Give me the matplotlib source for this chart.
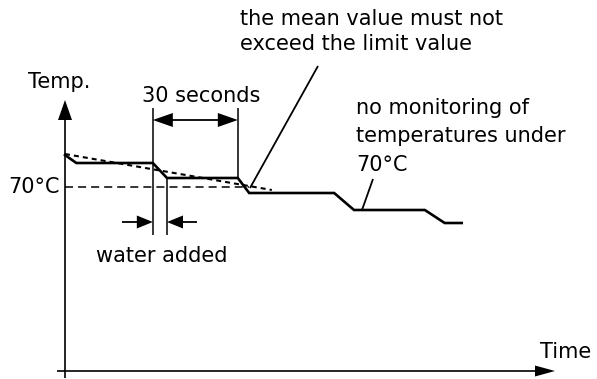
import matplotlib
matplotlib.use("Agg")
import matplotlib.pyplot as plt
import numpy as np

plt.rcParams["font.family"] = ["DejaVu Sans"]
plt.rcParams["lines.scale_dashes"] = False

# Temperature trace (time in s, temperature in degC)
time_s = [0, 4, 31, 36, 61, 65, 95, 102, 127, 134, 140]
temp_c = [73.2, 72.4, 72.4, 70.9, 70.9, 69.4, 69.4, 67.7, 67.7, 66.4, 66.4]

# Running mean over the monitoring window
mean_time_s = [0, 73]
mean_temp_c = [73.3, 69.7]

limit_c = 70.0
limit_end_s = 65
water_start_s, water_end_s = 31, 36
window_start_s, window_end_s = 31, 61

W, H = 597, 379
fig = plt.figure(figsize=(W / 100, H / 100), dpi=100)
ax = fig.add_axes([0, 0, 1, 1])

# data <-> pixel scale: 85 px per 30 s, 10 px per degC, origin at (65 px, 70 degC @ 187 px)
X0, SX = 65.0, 85.0 / 30.0
Y0, SY = 187.0, 10.0


def tx(px):
    return (px - X0) / SX


def ty(py):
    return limit_c + (Y0 - py) / SY


ax.set_xlim(tx(0), tx(W))
ax.set_ylim(ty(H), ty(0))
ax.axis("off")

K = "black"


def seg(x0, y0, x1, y1, lw=1.1, **kw):
    ax.plot([tx(x0), tx(x1)], [ty(y0), ty(y1)], color=K, lw=lw,
            solid_capstyle="butt", **kw)


def head(tipx, tipy, dx, dy, length, width):
    n = np.hypot(dx, dy)
    ux, uy = dx / n, dy / n
    bx, by = tipx - ux * length, tipy - uy * length
    px_, py_ = -uy * width / 2, ux * width / 2
    xs = [tipx, bx + px_, bx - px_]
    ys = [tipy, by + py_, by - py_]
    ax.fill([tx(v) for v in xs], [ty(v) for v in ys], color=K, lw=0)


# axes with arrow heads
seg(65, 378, 65, 115, lw=1.2)
head(65, 100, 0, -1, 20, 14)
seg(57, 371, 540, 371, lw=1.2)
head(555, 371, 1, 0, 20, 11)

# limit line
ax.plot([tx(65), limit_end_s], [limit_c, limit_c], color=K, lw=1.1,
        dashes=(5.8, 3.6))

# running mean (dashed)
ax.plot(mean_time_s, mean_temp_c, color=K, lw=1.5, dashes=(3.6, 2.9))

# measured temperature
ax.plot(time_s, temp_c, color=K, lw=1.9, solid_joinstyle="miter")

# 30 s window markers
x_ws = X0 + window_start_s * SX
x_we = X0 + window_end_s * SX
seg(x_ws, 108, x_ws, 235)
seg(x_we, 108, x_we, 178)
seg(x_ws + 18, 120, x_we - 18, 120, lw=1.3)
head(x_ws, 120, -1, 0, 20, 14)
head(x_we, 120, 1, 0, 20, 14)

# water added markers
x_w2 = X0 + water_end_s * SX
seg(x_w2, 178, x_w2, 235)
seg(122, 222, x_ws - 12, 222, lw=1.3)
head(x_ws, 222, 1, 0, 16, 13)
seg(197, 222, x_w2 + 12, 222, lw=1.3)
head(x_w2, 222, -1, 0, 16, 13)

# leader lines
seg(250, 188, 318, 66, lw=1.3)
seg(362, 210, 373, 179, lw=1.3)

FS = 15


def label(x, y, s, ha="left"):
    ax.text(tx(x), ty(y), s, ha=ha, va="baseline", fontsize=FS, color=K)


label(28, 88, "Temp.")
label(60, 193, "70°C", ha="right")
label(201, 102, "30 seconds", ha="center")
label(162, 262, "water added", ha="center")
label(240, 25, "the mean value must not")
label(240, 50, "exceed the limit value")
label(356, 114, "no monitoring of")
label(356, 142, "temperatures under")
label(356, 171, "70°C")
label(540, 358, "Time")

fig.savefig("out.png", dpi=100)
